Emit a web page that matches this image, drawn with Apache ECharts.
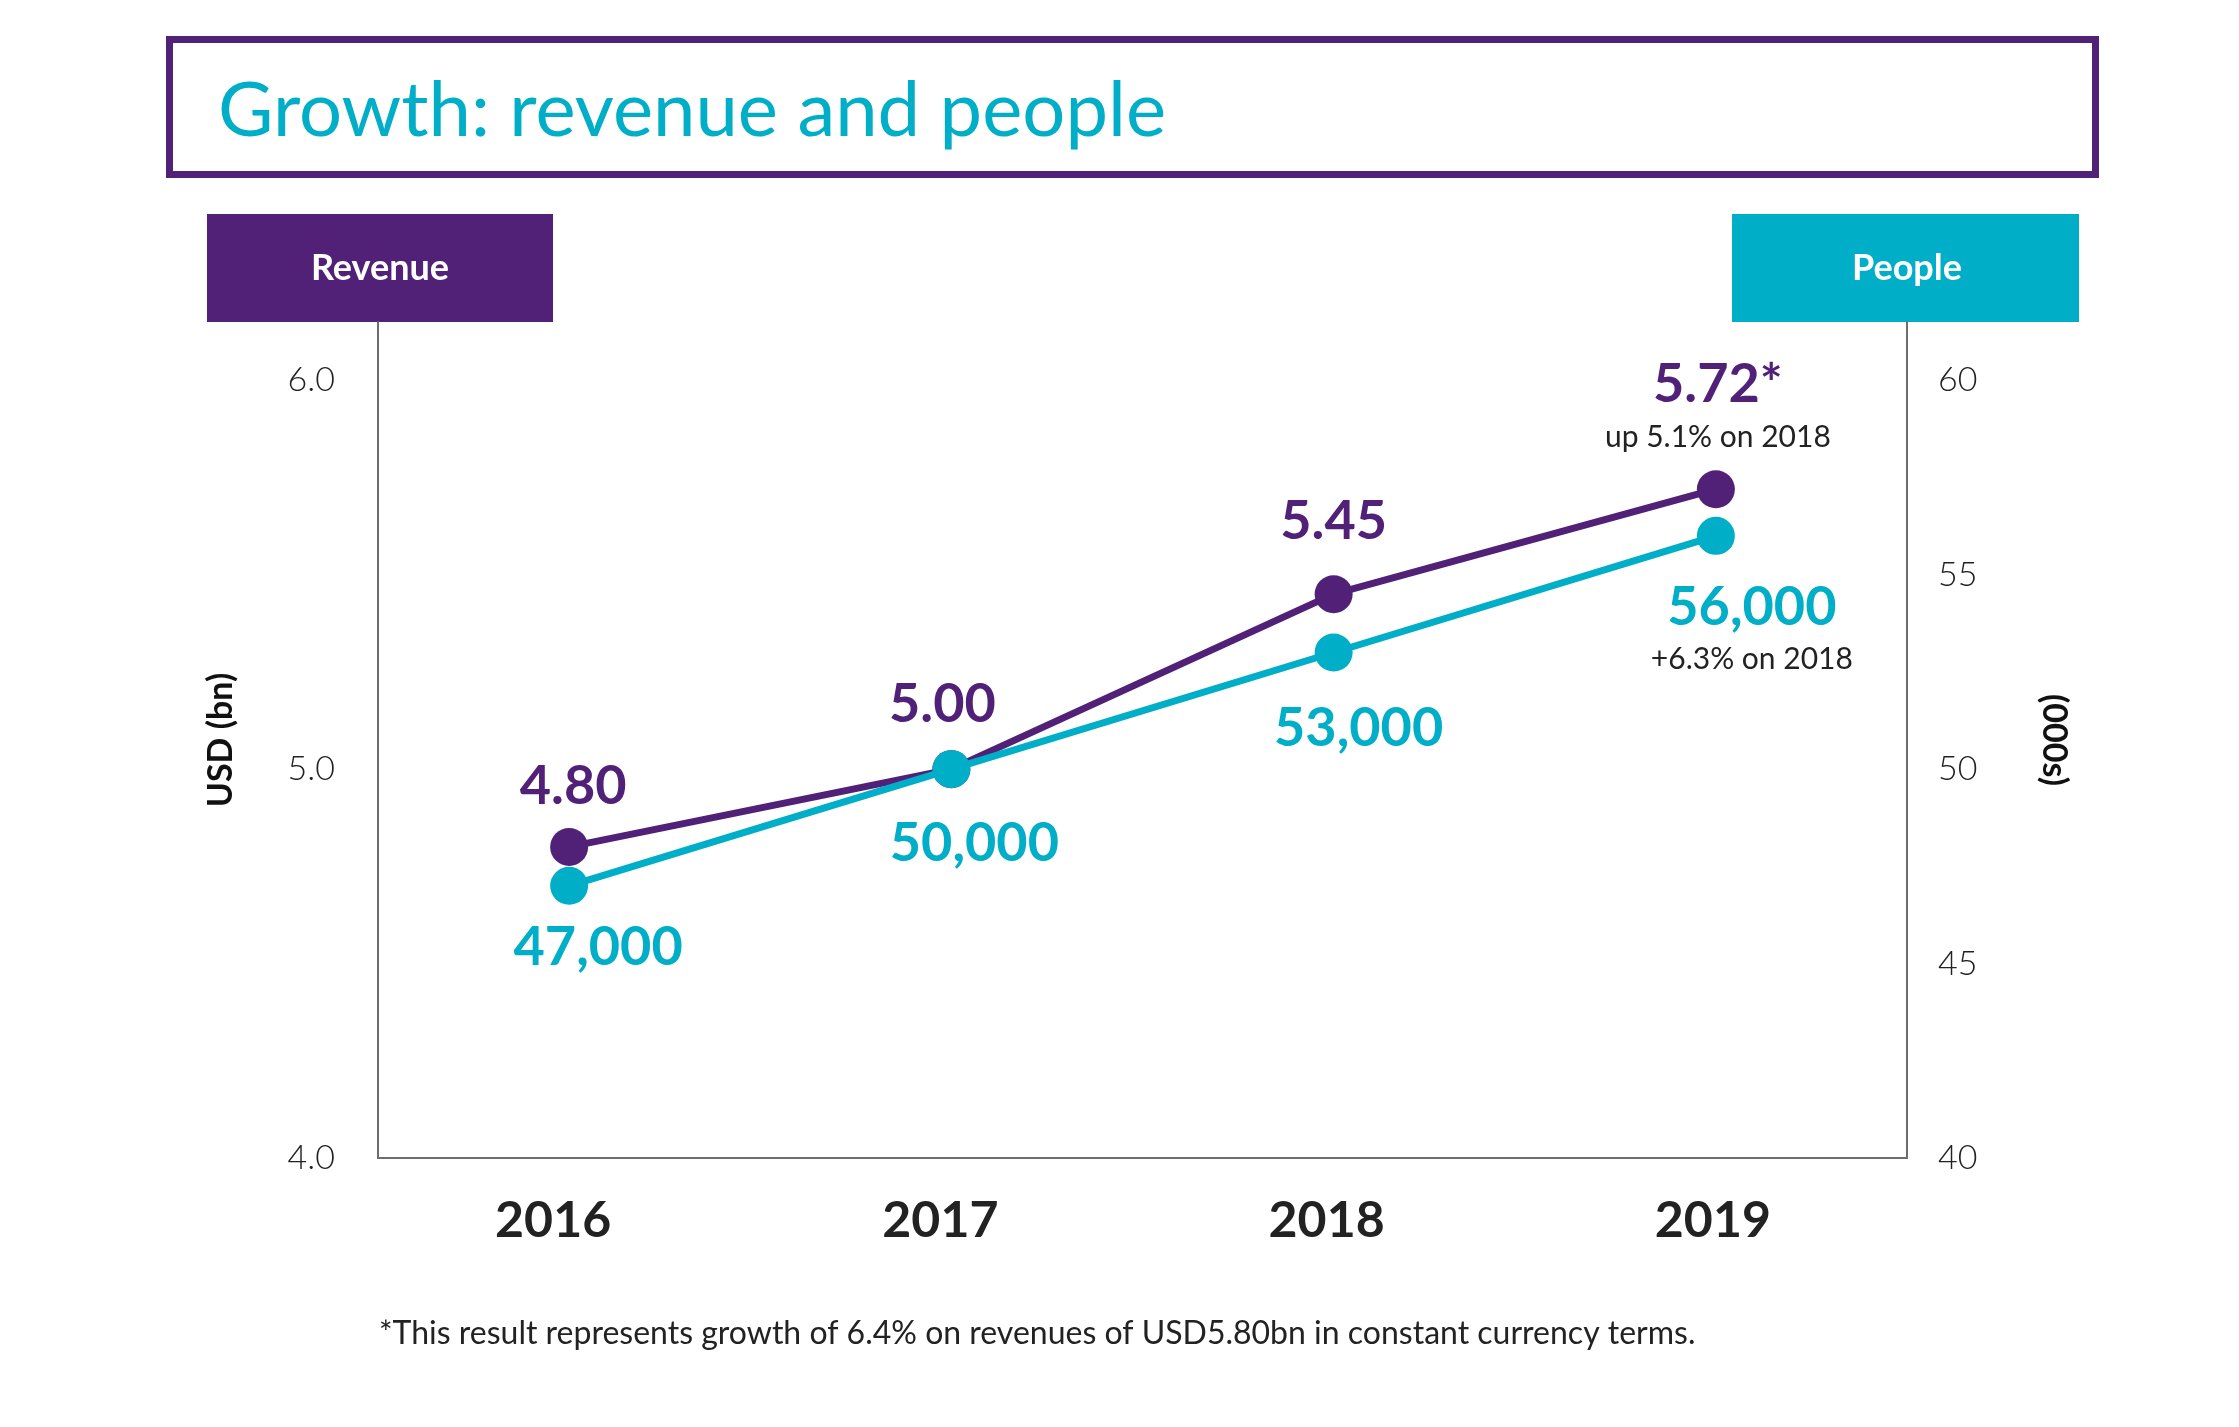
<!DOCTYPE html>
<html>
<head>
    <meta charset="utf-8" />
    <script src="https://cdn.jsdelivr.net/npm/echarts@6/dist/echarts.min.js"></script>
    <style>
        html, body { margin: 0; padding: 0; background: #fff; }
        #chart { width: 2239px; height: 1427px; }
    </style>
</head>
<body>
    <div id="chart"></div>
    <script>
        // data
        var years = ['2016', '2017', '2018', '2019'];
        var revenue = [4.80, 5.00, 5.45, 5.72];          // USD bn
        var people = [47000, 50000, 53000, 56000];       // headcount
        var revenueMarks = ['', '', '', '*'];
        var revenueNotes = ['', '', '', 'up 5.1% on 2018'];
        var peopleNotes = ['', '', '', '+6.3% on 2018'];
        var revenueTicks = [4, 5, 6];
        var peopleTicks = [40, 45, 50, 55, 60];
        var footnote = '*This result represents growth of 6.4% on revenues of USD5.80bn in constant currency terms.';

        var PURPLE = '#512178';
        var CYAN = '#00AEC7';
        var FONT = 'Lato, "Noto Sans", sans-serif';

        // label placement tweaks (px offset of label centre from point)
        var revOffsets = [[4, -60], [-9, -65], [0, -73], [2, -82]];
        var pplOffsets = [[29, 62], [23, 74], [25, 76], [36, 94]];
        var yearShift = [32, 22, 14, 6];

        var revData = revenue.map(function (v, i) {
            return {
                value: v,
                label: {
                    offset: revOffsets[i],
                    formatter: function () {
                        var s = '{big|' + v.toFixed(2) + revenueMarks[i] + '}';
                        if (revenueNotes[i]) s += '\n{small|' + revenueNotes[i] + '}';
                        return s;
                    }
                }
            };
        });
        var pplData = people.map(function (v, i) {
            return {
                value: v / 1000,
                label: {
                    offset: pplOffsets[i],
                    formatter: function () {
                        var s = '{big|' + v.toLocaleString('en-US') + '}';
                        if (peopleNotes[i]) s += '\n{small|' + peopleNotes[i] + '}';
                        return s;
                    }
                }
            };
        });
        var yearData = years.map(function (y, i) {
            return { value: y, textStyle: { padding: [0, yearShift[i], 0, 0] } };
        });

        var chart = echarts.init(document.getElementById('chart'));

        var axisLineStyle = { color: '#6d6d6d', width: 2 };

        var option = {
            animation: false,
            backgroundColor: '#fff',
            textStyle: { fontFamily: FONT },
            title: {
                text: 'Growth: revenue and people',
                left: 213,
                top: 68,
                textStyle: { color: CYAN, fontSize: 76, fontWeight: 'normal', fontFamily: FONT }
            },
            grid: { left: 378, right: 332, top: 322, bottom: 269 },
            xAxis: {
                type: 'category',
                data: yearData,
                boundaryGap: true,
                axisLine: { lineStyle: axisLineStyle },
                axisTick: { show: false },
                axisLabel: {
                    margin: 38,
                    color: '#222',
                    fontSize: 50,
                    fontWeight: 'bold',
                    fontFamily: FONT
                }
            },
            yAxis: [
                {
                    type: 'value',
                    min: 4,
                    max: 6.15,
                    interval: 1,
                    name: 'USD (bn)',
                    nameLocation: 'middle',
                    nameRotate: 90,
                    nameGap: 140,
                    nameTextStyle: { fontSize: 34, fontWeight: 'bold', color: '#111', fontFamily: FONT },
                    splitLine: { show: false },
                    axisTick: { show: false },
                    axisLine: { show: true, lineStyle: axisLineStyle },
                    axisLabel: {
                        margin: 43,
                        color: '#222',
                        fontSize: 34,
                        fontWeight: 300,
                        fontFamily: FONT,
                        showMaxLabel: false,
                        formatter: function (v) {
                            return revenueTicks.indexOf(v) >= 0 ? v.toFixed(1) : '';
                        }
                    }
                },
                {
                    type: 'value',
                    min: 40,
                    max: 61.5,
                    interval: 5,
                    name: '(000s)',
                    nameLocation: 'middle',
                    nameRotate: -90,
                    nameGap: 130,
                    nameTextStyle: { fontSize: 34, fontWeight: 'bold', color: '#111', fontFamily: FONT },
                    splitLine: { show: false },
                    axisTick: { show: false },
                    axisLine: { show: true, lineStyle: axisLineStyle },
                    axisLabel: {
                        margin: 31,
                        color: '#222',
                        fontSize: 34,
                        fontWeight: 300,
                        fontFamily: FONT,
                        showMaxLabel: false,
                        formatter: function (v) {
                            return peopleTicks.indexOf(v) >= 0 ? String(v) : '';
                        }
                    }
                }
            ],
            series: [
                {
                    name: 'Revenue',
                    type: 'line',
                    yAxisIndex: 0,
                    data: revData,
                    symbol: 'circle',
                    symbolSize: 38,
                    lineStyle: { color: PURPLE, width: 7 },
                    itemStyle: { color: PURPLE },
                    label: {
                        show: true,
                        position: 'inside',
                        align: 'center',
                        verticalAlign: 'middle',
                        rich: {
                            big: { fontSize: 54, fontWeight: 'bold', color: PURPLE, lineHeight: 60, fontFamily: FONT },
                            small: { fontSize: 30, color: '#222', lineHeight: 46, fontFamily: FONT }
                        }
                    },
                    z: 2
                },
                {
                    name: 'People',
                    type: 'line',
                    yAxisIndex: 1,
                    data: pplData,
                    symbol: 'circle',
                    symbolSize: 38,
                    lineStyle: { color: CYAN, width: 7 },
                    itemStyle: { color: CYAN },
                    label: {
                        show: true,
                        position: 'inside',
                        align: 'center',
                        verticalAlign: 'middle',
                        rich: {
                            big: { fontSize: 54, fontWeight: 'bold', color: CYAN, lineHeight: 58, fontFamily: FONT },
                            small: { fontSize: 30, color: '#222', lineHeight: 44, fontFamily: FONT }
                        }
                    },
                    z: 3
                }
            ],
            graphic: [
                {
                    type: 'rect',
                    shape: { x: 169.5, y: 39.5, width: 1926, height: 135 },
                    style: { fill: 'none', stroke: PURPLE, lineWidth: 7 }
                },
                {
                    type: 'rect',
                    shape: { x: 207, y: 214, width: 346, height: 108 },
                    style: { fill: PURPLE }
                },
                {
                    type: 'text',
                    x: 380, y: 268,
                    style: {
                        text: 'Revenue', fill: '#fff', font: 'bold 36px ' + FONT,
                        align: 'center', verticalAlign: 'middle'
                    }
                },
                {
                    type: 'rect',
                    shape: { x: 1732, y: 214, width: 347, height: 108 },
                    style: { fill: CYAN }
                },
                {
                    type: 'text',
                    x: 1907, y: 268,
                    style: {
                        text: 'People', fill: '#fff', font: 'bold 36px ' + FONT,
                        align: 'center', verticalAlign: 'middle'
                    }
                },
                {
                    type: 'text',
                    x: 379, y: 1334,
                    style: {
                        text: footnote, fill: '#222', font: '32px ' + FONT,
                        align: 'left', verticalAlign: 'middle'
                    }
                }
            ]
        };

        chart.setOption(option);
    </script>
</body>
</html>
